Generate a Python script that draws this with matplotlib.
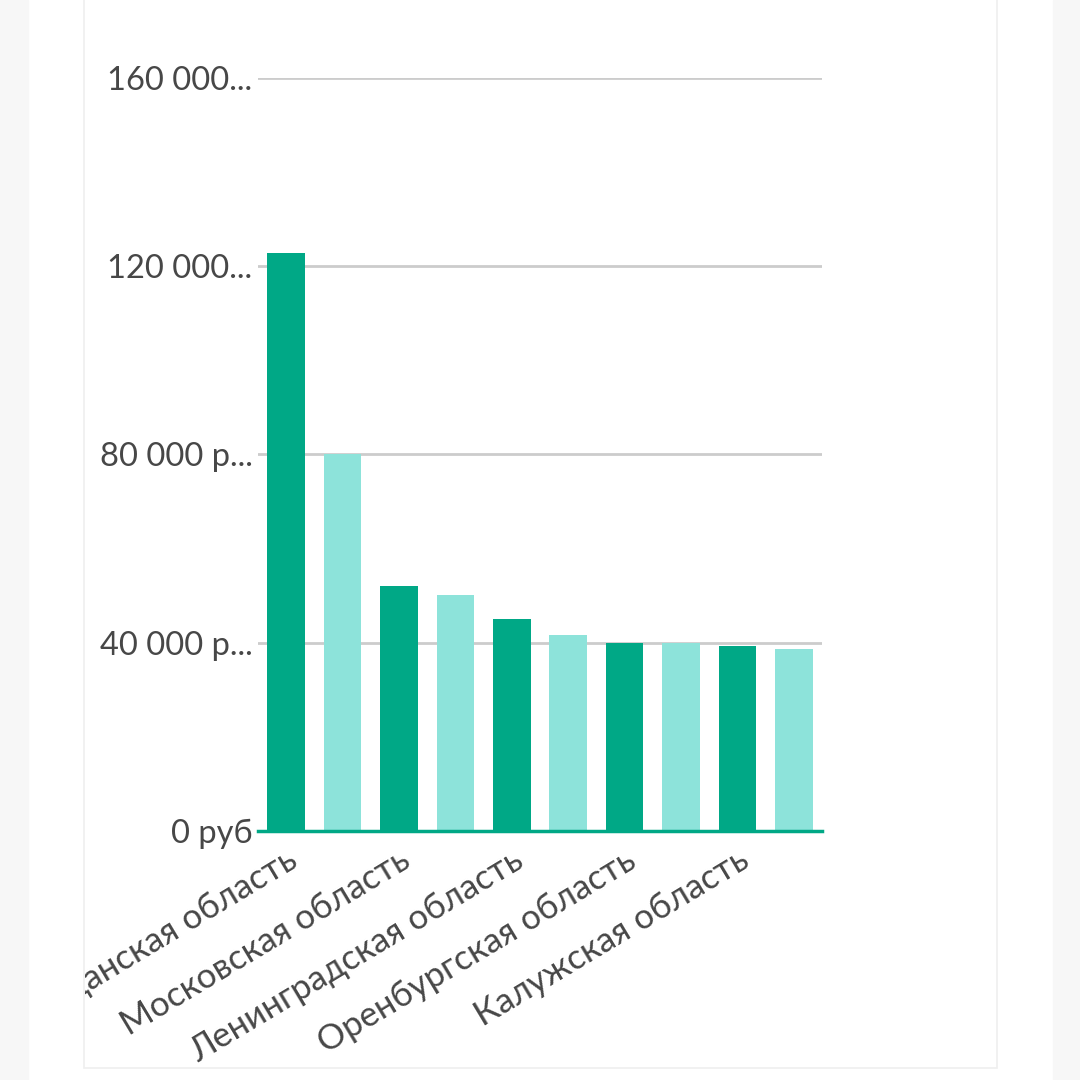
import matplotlib
matplotlib.use("Agg")
import matplotlib.pyplot as plt
from matplotlib.patches import Rectangle
from matplotlib.transforms import Bbox, TransformedBbox
import numpy as np

regions = ["Магаданская область", "", "Московская область", "", "Ленинградская область", "",
           "Оренбургская область", "", "Калужская область", ""]
values = [122800, 80000, 52000, 50200, 45100, 41600, 39900, 39900, 39300, 38600]
bar_colors = ["#00a886", "#8de3da"] * 5
ytick_vals = [0, 40000, 80000, 120000, 160000]
ytick_labels = ["0 руб", "40 000 р...", "80 000 р...", "120 000...", "160 000..."]

plt.rcParams['font.family'] = ['Lato', 'DejaVu Sans']

W = H = 1080
fig = plt.figure(figsize=(10.8, 10.8), dpi=100, facecolor="white")

# page background stripes and card
fig.patches.append(Rectangle((0, 0), 28 / W, 1, transform=fig.transFigure, color="#f7f7f7", zorder=-10))
fig.patches.append(Rectangle((1053 / W, 0), 1 - 1053 / W, 1, transform=fig.transFigure, color="#f7f7f7", zorder=-10))
card = Rectangle((84 / W, 12 / H), (997 - 84) / W, 1.1, transform=fig.transFigure,
                 facecolor="white", edgecolor="#efefef", linewidth=1.2, zorder=-10)
fig.patches.append(card)

ax = fig.add_axes([258 / W, 1 - 831 / H, (822 - 258) / W, (831 - 78) / H])
ax.set_zorder(5)
ax.set_facecolor("none")
x = np.arange(len(values))
ax.bar(x, values, width=0.67, color=bar_colors, zorder=2)
ax.set_xlim(-0.5, len(values) - 0.5)
ax.set_ylim(0, 160000)

ax.set_yticks(ytick_vals)
ax.set_yticklabels(ytick_labels)
ax.yaxis.grid(True, color="#cccccc", linewidth=2, zorder=0)
ax.set_axisbelow(True)
for s in ["left", "right", "top"]:
    ax.spines[s].set_visible(False)
ax.spines["bottom"].set_color("#00a886")
ax.spines["bottom"].set_linewidth(2.5)
ax.spines["bottom"].set_zorder(3)
ax.tick_params(axis="y", length=0, pad=4, labelsize=23.5, labelcolor="#474747")
ax.tick_params(axis="x", length=0, pad=9, labelsize=25, labelcolor="#474747")

lab_idx = [i for i, r in enumerate(regions) if r]
ax.set_xticks(lab_idx)
ax.set_xticklabels([regions[i] for i in lab_idx], rotation=31, ha="right", va="top",
                   rotation_mode="anchor")
clip = TransformedBbox(Bbox.from_extents(85 / W, 0, 996 / W, 1), fig.transFigure)
for lab in ax.get_xticklabels():
    lab.set_clip_box(clip)
    lab.set_clip_on(True)

fig.savefig("out.png", dpi=100, facecolor="white")
